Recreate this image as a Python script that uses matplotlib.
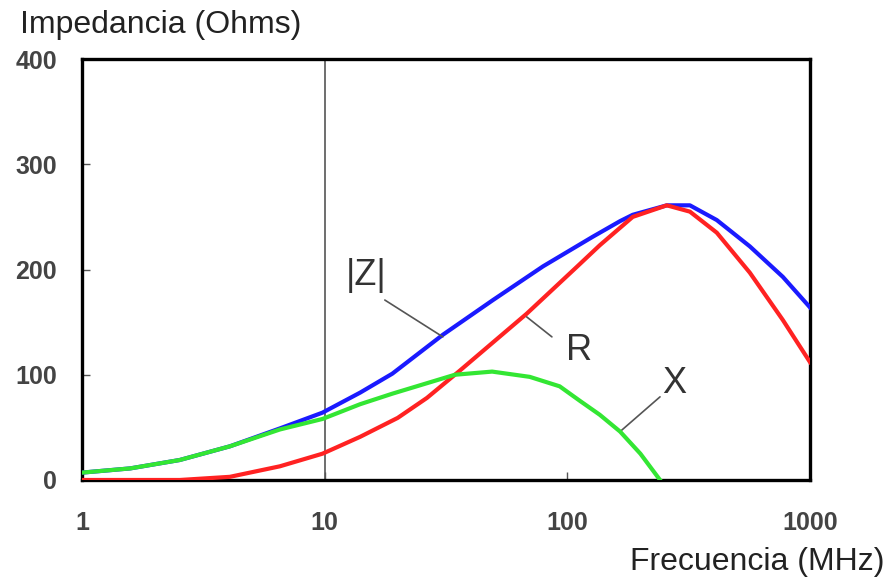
import matplotlib
matplotlib.use("Agg")
import matplotlib.pyplot as plt

plt.rcParams['font.family'] = ['Liberation Sans', 'DejaVu Sans']

# values (frequency in MHz, impedance in ohms)
z_freq = [1, 1.58, 2.53, 4.07, 6.54, 9.8, 14, 19, 30.7, 49.4, 79.4, 127, 165, 186, 257, 320, 413, 565, 773, 1000]
z_vals = [7, 11, 19, 32, 49, 64, 83, 101, 138, 171, 203, 231, 246, 252, 261, 261, 247, 222, 193, 164]

r_freq = [1, 2.53, 4.07, 6.54, 9.8, 14, 20, 26.4, 36.1, 68, 110, 136, 186, 257, 320, 413, 565, 773, 1000]
r_vals = [0, 0, 3, 13, 25, 41, 59, 78, 104, 158, 203, 223, 250, 261, 255, 235, 197, 152, 112]

x_freq = [1, 1.58, 2.53, 4.07, 6.54, 9.8, 14, 19, 34.4, 49, 70, 93, 113, 136, 165, 200, 241]
x_vals = [7, 11, 19, 32, 48, 58, 72, 82, 100, 103, 98, 89, 75, 62, 46, 25, 0]

x_ticks = [1, 10, 100, 1000]
x_ticklabels = ['1', '10', '100', '1000']
y_ticks = [0, 100, 200, 300, 400]

fig = plt.figure(figsize=(8.9, 5.83), dpi=100)
ax = fig.add_axes([0.0921, 0.1767, 0.818, 0.722])

ax.axvline(10, color='#555555', lw=1.2, zorder=1)

ax.plot(z_freq, z_vals, color='#1a1aff', lw=3, zorder=3, solid_joinstyle='round')
ax.plot(r_freq, r_vals, color='#ff2222', lw=3, zorder=3, solid_joinstyle='round')
ax.plot(x_freq, x_vals, color='#33e633', lw=3, zorder=4, solid_joinstyle='round')

ax.set_xscale('log')
ax.set_xlim(1, 1000)
ax.set_ylim(0, 400)
ax.set_xticks(x_ticks)
ax.set_xticklabels(x_ticklabels)
ax.minorticks_off()
ax.set_yticks(y_ticks)

ax.tick_params(axis='both', direction='in', length=6, width=1, color='#555555',
               labelsize=18, labelcolor='#444444')
ax.tick_params(axis='y', pad=18)
ax.tick_params(axis='x', pad=22)
for lab in ax.get_xticklabels() + ax.get_yticklabels():
    lab.set_fontweight('bold')

for s in ax.spines.values():
    s.set_linewidth(2.4)
    s.set_color('black')

# curve labels and their leader lines
lead = dict(arrowstyle='-', color='#555555', lw=1.2, shrinkA=0, shrinkB=0)
ax.annotate('', xy=(30.7, 136), xytext=(17.7, 171), arrowprops=lead)
ax.annotate('', xy=(68, 155), xytext=(86.4, 136), arrowprops=lead)
ax.annotate('', xy=(165, 46), xytext=(241, 79), arrowprops=lead)

lbl = dict(fontsize=26, color='#333333', ha='center', va='center')
ax.text(14.8, 194, '|Z|', **lbl)
ax.text(111.6, 123, 'R', **lbl)
ax.text(275, 92, 'X', **lbl)

fig.text(20 / 890, 1 - 25 / 583, 'Impedancia (Ohms)', fontsize=23, color='#222222',
         ha='left', va='center')
fig.text(885 / 890, 1 - 562 / 583, 'Frecuencia (MHz)', fontsize=23, color='#222222',
         ha='right', va='center')

fig.savefig('out.png', dpi=100)
